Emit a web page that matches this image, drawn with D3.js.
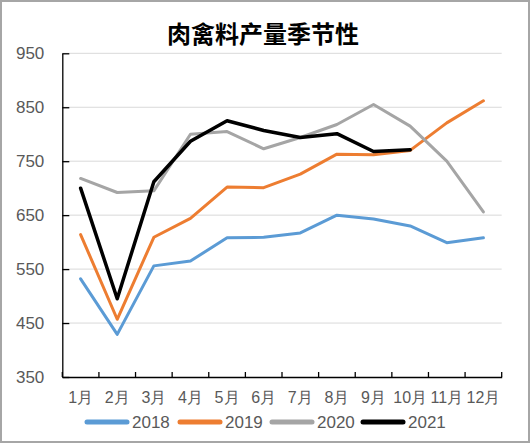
<!DOCTYPE html>
<html><head><meta charset="utf-8">
<script src="https://cdn.jsdelivr.net/npm/d3@7"></script>
<style>
html,body{margin:0;padding:0;background:#fff;}
svg{display:block;}
</style></head>
<body>
<svg id="chart" width="530" height="443"></svg>
<script>
const months = ["1月","2月","3月","4月","5月","6月","7月","8月","9月","10月","11月","12月"];
const yTicks = [350,450,550,650,750,850,950];
const seriesNames = ["2018","2019","2020","2021"];
const seriesColors = ["#5B9BD5","#ED7D31","#A5A5A5","#000000"];
const v2018 = [532,429,556,565,608,609,617,650,643,630,599,608];
const v2019 = [614,457,609,644,702,701,726,763,762,770,821,862];
const v2020 = [718,692,695,800,805,773,794,818,855,815,750,656];
const v2021 = [700,495,712,787,825,807,794,801,768,771];
const title = "肉禽料产量季节性";

(function(){
const svg = d3.select("#chart");
const W = 530, H = 443;
const font = "'Liberation Sans', Arial, sans-serif";

svg.append("rect").attr("x",1).attr("y",1).attr("width",W-2).attr("height",H-2)
  .attr("fill","#fff").attr("stroke","#a6a6a6").attr("stroke-width",2);

const pL = 62.3, pR = 501.7, pT = 53.3, pB = 377;
const x = d3.scaleBand().domain(months).range([pL,pR]);
const y = d3.scaleLinear().domain([350,950]).range([pB,pT]);

svg.append("text").attr("x",263).attr("y",43).attr("text-anchor","middle")
  .attr("font-family","'Noto Sans CJK SC', sans-serif").attr("font-weight","bold")
  .attr("font-size",24).attr("fill","#000").text(title);

// gridlines
svg.append("g").selectAll("line").data(yTicks.slice(1)).join("line")
  .attr("x1",pL).attr("x2",pR).attr("y1",d=>y(d)).attr("y2",d=>y(d))
  .attr("stroke","#d9d9d9").attr("stroke-width",1);

// y axis
const yAxis = svg.append("g").attr("transform",`translate(${pL},0)`)
  .call(d3.axisLeft(y).tickValues(yTicks).tickSizeInner(-7).tickSizeOuter(0).tickPadding(18));
yAxis.select(".domain").attr("stroke","#000").attr("stroke-width",1.3);
yAxis.selectAll(".tick line").attr("stroke","#000").attr("stroke-width",1.3);
yAxis.selectAll("text").attr("font-family",font).attr("font-size",17).attr("fill","#595959");

// x axis
const xAxis = svg.append("g").attr("transform",`translate(0,${pB})`)
  .call(d3.axisBottom(x).tickSize(0).tickPadding(15));
xAxis.select(".domain").attr("stroke","#000").attr("stroke-width",1.3);
xAxis.selectAll("text").attr("font-family",font).attr("font-size",16).attr("fill","#595959");
// inside tick marks at category boundaries
const bounds = months.map(m=>x(m)).concat([pR]);
svg.append("g").selectAll("line").data(bounds).join("line")
  .attr("x1",d=>d).attr("x2",d=>d).attr("y1",pB).attr("y2",pB-5)
  .attr("stroke","#000").attr("stroke-width",1.3);

const allSeries = [v2018,v2019,v2020,v2021];
const line = d3.line().x((d,i)=>x(months[i])+x.bandwidth()/2).y(d=>y(d));
svg.append("g").selectAll("path").data(allSeries).join("path")
  .attr("d",d=>line(d)).attr("fill","none")
  .attr("stroke",(d,i)=>seriesColors[i]).attr("stroke-width",(d,i)=>i===3?3.5:3)
  .attr("stroke-linejoin","round").attr("stroke-linecap","round");

// legend
const legX = [87,180,272,363];
const lg = svg.append("g").selectAll("g").data(seriesNames).join("g")
  .attr("transform",(d,i)=>`translate(${legX[i]},422)`);
lg.append("line").attr("x1",0).attr("x2",40).attr("y1",0).attr("y2",0)
  .attr("stroke",(d,i)=>seriesColors[i]).attr("stroke-width",5).attr("stroke-linecap","round");
lg.append("text").attr("x",45).attr("y",6).attr("font-family",font).attr("font-size",17)
  .attr("fill","#595959").text(d=>d);
})();
</script>
</body></html>
